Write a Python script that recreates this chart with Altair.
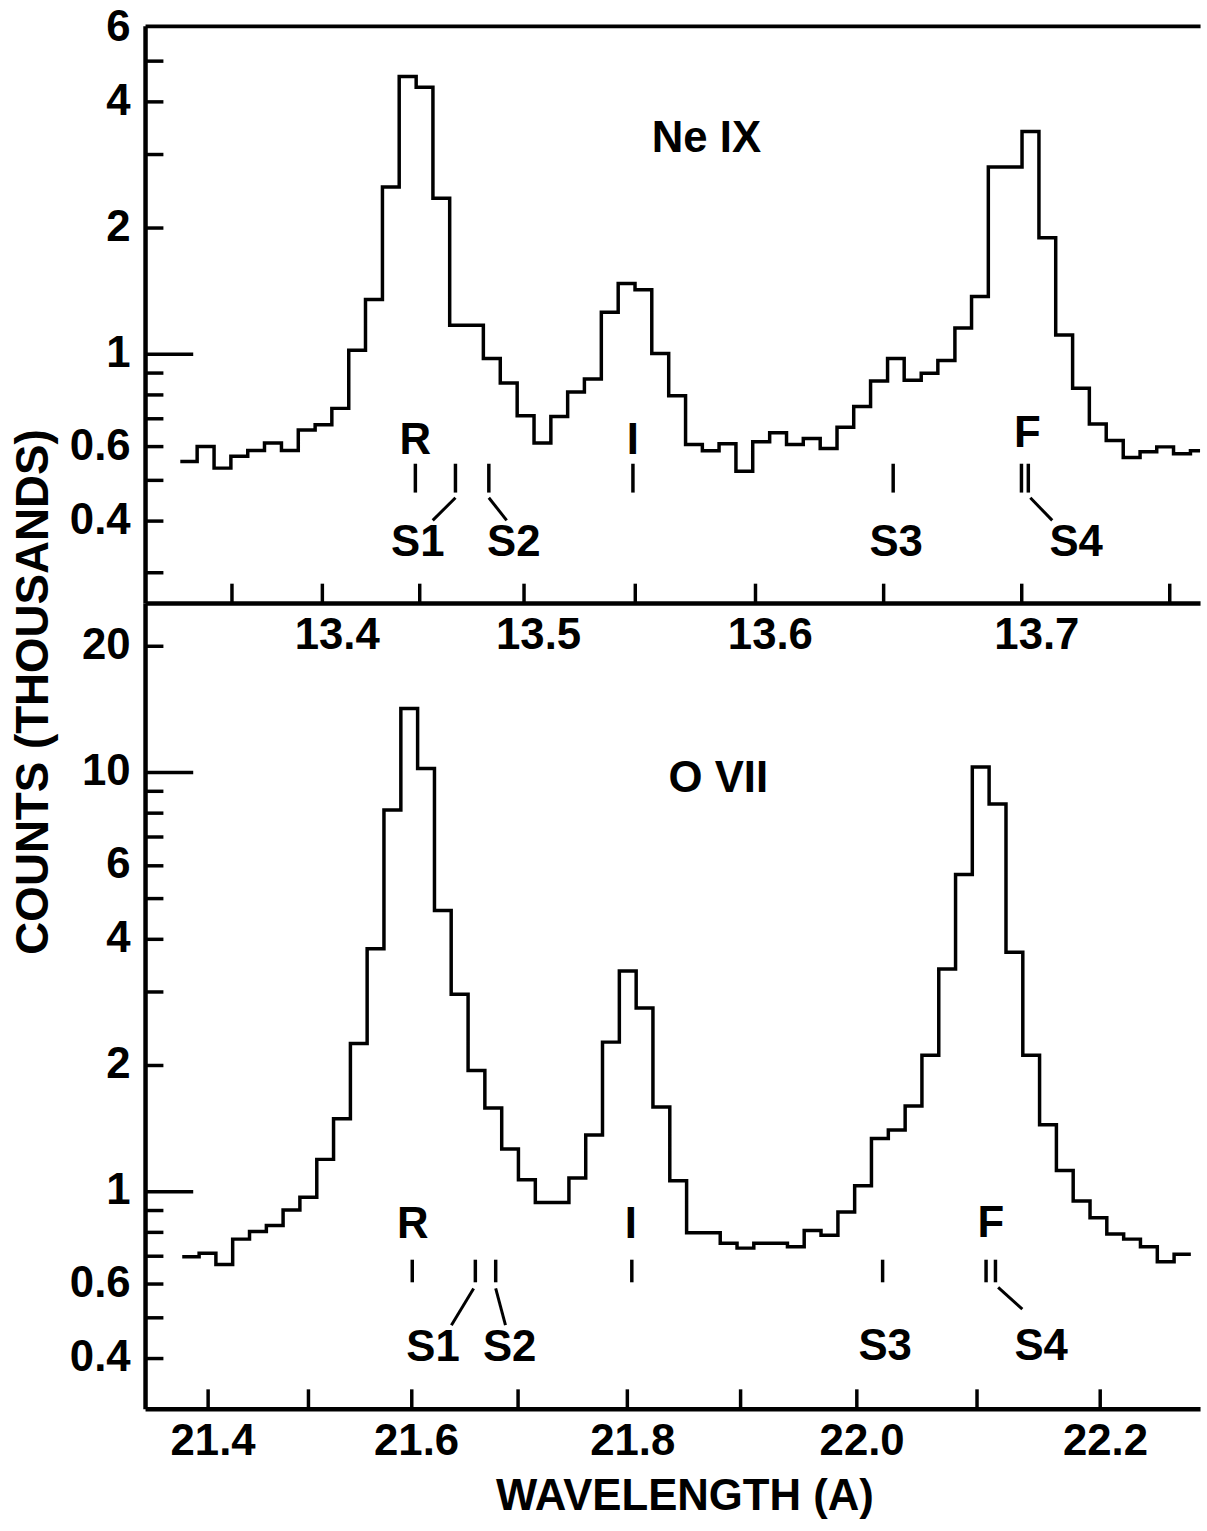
import altair as alt
import pandas as pd

FONT = "Liberation Sans"
WEIGHT = "bold"

# ---------------- Ne IX spectrum (top panel) ----------------
# bin edges in Angstrom (last value = right end of plotted range), counts in thousands
ne_edges = [13.3201, 13.3301, 13.3400, 13.3497, 13.3593, 13.3687, 13.3781, 13.3873, 13.3964, 13.4053,
            13.4142, 13.4229, 13.4316, 13.4401, 13.4486, 13.4569, 13.4651, 13.4733, 13.4813, 13.4893,
            13.4972, 13.5050, 13.5127, 13.5203, 13.5278, 13.5353, 13.5427, 13.5500, 13.5572, 13.5644,
            13.5715, 13.5785, 13.5854, 13.5923, 13.5991, 13.6059, 13.6126, 13.6192, 13.6258, 13.6323,
            13.6387, 13.6451, 13.6515, 13.6577, 13.6640, 13.6701, 13.6763, 13.6823, 13.6883, 13.6943,
            13.7002, 13.7061, 13.7119, 13.7177, 13.7234, 13.7291, 13.7348, 13.7404, 13.7459, 13.7514,
            13.7569, 13.7600]
ne_counts = [0.553, 0.600, 0.533, 0.569, 0.587, 0.612, 0.587, 0.657, 0.676, 0.740,
             1.018, 1.345, 2.497, 4.580, 4.321, 2.346, 1.169, 1.169, 0.973, 0.851,
             0.711, 0.612, 0.708, 0.810, 0.870, 1.255, 1.469, 1.419, 1.000, 0.793,
             0.607, 0.586, 0.609, 0.524, 0.616, 0.647, 0.607, 0.627, 0.594, 0.667,
             0.748, 0.860, 0.973, 0.864, 0.898, 0.963, 1.151, 1.368, 2.788, 2.788,
             3.386, 1.890, 1.107, 0.827, 0.679, 0.620, 0.565, 0.583, 0.599, 0.577,
             0.586]

# ---------------- O VII spectrum (bottom panel) ----------------
o_edges = [21.3742, 21.3914, 21.4084, 21.4253, 21.4422, 21.4590, 21.4756, 21.4922, 21.5088, 21.5252,
           21.5416, 21.5578, 21.5740, 21.5902, 21.6062, 21.6222, 21.6380, 21.6539, 21.6696, 21.6853,
           21.7008, 21.7164, 21.7318, 21.7472, 21.7625, 21.7777, 21.7929, 21.8080, 21.8230, 21.8380,
           21.8529, 21.8677, 21.8825, 21.8972, 21.9118, 21.9264, 21.9409, 21.9553, 21.9697, 21.9841,
           21.9983, 22.0125, 22.0267, 22.0408, 22.0548, 22.0688, 22.0827, 22.0965, 22.1103, 22.1241,
           22.1378, 22.1514, 22.1650, 22.1785, 22.1920, 22.2054, 22.2188, 22.2321, 22.2454, 22.2586,
           22.2717]
o_counts = [0.696, 0.710, 0.667, 0.767, 0.800, 0.827, 0.900, 0.965, 1.189, 1.487,
            2.247, 3.786, 8.110, 14.17, 10.19, 4.668, 2.945, 1.939, 1.576, 1.258,
            1.063, 0.938, 0.938, 1.073, 1.359, 2.265, 3.348, 2.731, 1.585, 1.057,
            0.794, 0.794, 0.750, 0.730, 0.750, 0.750, 0.736, 0.804, 0.784, 0.890,
            1.028, 1.334, 1.398, 1.594, 2.106, 3.386, 5.690, 10.28, 8.385, 3.712,
            2.106, 1.438, 1.118, 0.946, 0.863, 0.789, 0.767, 0.736, 0.677, 0.706]

# ---------------- line identifications ----------------
ne_text = ["R", "I", "F", "S1", "S2", "S3", "S4", "Ne IX"]
ne_text_wl = [13.4482, 13.5491, 13.7021, 13.4494, 13.4956, 13.6547, 13.7189, 13.5802]
ne_text_level = [0.619, 0.619, 0.643, 0.353, 0.353, 0.353, 0.353, 3.25]
ne_marker_wl = [13.4482, 13.4679, 13.4839, 13.5491, 13.6536, 13.7000, 13.7024]
ne_marker_top = [0.546] * 7
ne_marker_bottom = [0.466] * 7
ne_leader_from = [13.4679, 13.4839, 13.7031]
ne_leader_to = [13.4568, 13.4923, 13.7107]
ne_leader_top = [0.453, 0.453, 0.453]
ne_leader_bottom = [0.400, 0.400, 0.400]

o_text = ["R", "I", "F", "S1", "S2", "S3", "S4", "O VII"]
o_text_wl = [21.6016, 21.8032, 22.1118, 21.6209, 21.6927, 22.0240, 22.1527, 21.8808]
o_text_level = [0.830, 0.830, 0.834, 0.421, 0.421, 0.424, 0.424, 9.62]
o_marker_wl = [21.6011, 21.6607, 21.6797, 21.8041, 22.0219, 22.1078, 22.1155]
o_marker_top = [0.685] * 7
o_marker_bottom = [0.605] * 7
o_leader_from = [21.6591, 21.6797, 22.1177]
o_leader_to = [21.6382, 21.6888, 22.1374]
o_leader_top = [0.585, 0.585, 0.588]
o_leader_bottom = [0.478, 0.478, 0.522]

# ---------------- axis values ----------------
ne_x_labels = [13.4, 13.5, 13.6, 13.7]
ne_x_ticks = [13.35, 13.4, 13.45, 13.5, 13.55, 13.6, 13.65, 13.7, 13.75]
o_x_labels = [21.4, 21.6, 21.8, 22.0, 22.2]
o_x_ticks = [21.4, 21.5, 21.6, 21.7, 21.8, 21.9, 22.0, 22.1, 22.2]
ne_y_labels = [0.4, 0.6, 1, 2, 4, 6]
ne_y_ticks = [0.3, 0.4, 0.5, 0.6, 0.7, 0.8, 0.9, 1, 2, 3, 4, 5]
o_y_labels = [0.4, 0.6, 1, 2, 4, 6, 10, 20]
o_y_ticks = [0.4, 0.5, 0.6, 0.7, 0.8, 0.9, 1, 2, 3, 4, 5, 6, 7, 8, 9, 10, 20]

W = 1062
H1 = 581
H2 = 811


def step_frame(edges, counts):
    n = len(counts)
    return pd.DataFrame({"wavelength": edges,
                         "counts": [counts[min(i, n - 1)] for i in range(len(edges))]})


def panel(edges, counts, text, text_wl, text_level, m_wl, m_top, m_bot,
          l_from, l_to, l_top, l_bot, xscale, yscale, H, x_axis, y_axis,
          x_ticks, y_ticks, long_test, top_border):
    hist = alt.Chart(step_frame(edges, counts)).mark_line(
        interpolate="step-after", color="black", strokeWidth=3.5
    ).encode(
        x=alt.X("wavelength:Q", scale=xscale, axis=x_axis),
        y=alt.Y("counts:Q", scale=yscale, axis=y_axis),
    )
    mdf = pd.DataFrame({"wavelength": m_wl, "top": m_top, "bottom": m_bot})
    markers = alt.Chart(mdf).mark_rule(color="black", strokeWidth=3.5).encode(
        x=alt.X("wavelength:Q", scale=xscale,
                axis=alt.Axis(orient="top", offset=-H, values=x_ticks, ticks=True,
                              tickSize=20, tickWidth=3.5, tickColor="black",
                              labels=False, domain=False, grid=False, title=None)),
        y=alt.Y("top:Q", scale=yscale,
                axis=alt.Axis(orient="right", offset=-W, values=y_ticks, ticks=True,
                              tickSize={"condition": {"test": long_test, "value": 48}, "value": 18},
                              tickWidth=3.5, tickColor="black",
                              labels=False, domain=False, grid=False, title=None)),
        y2="bottom:Q",
    )
    tdf = pd.DataFrame({"label": text, "wavelength": text_wl, "level": text_level})
    if top_border:
        tx_axis = alt.Axis(orient="top", domain=True, domainWidth=4, domainColor="black",
                           ticks=False, labels=False, grid=False, title=None)
    else:
        tx_axis = None
    texts = alt.Chart(tdf).mark_text(
        font=FONT, fontSize=44, fontWeight=WEIGHT, color="black", align="center", baseline="middle"
    ).encode(
        x=alt.X("wavelength:Q", scale=xscale, axis=tx_axis),
        y=alt.Y("level:Q", scale=yscale, axis=None),
        text="label:N",
    )
    ldf = pd.DataFrame({"x1": l_from, "x2": l_to, "y1": l_top, "y2": l_bot})
    leaders = alt.Chart(ldf).mark_rule(color="black", strokeWidth=3).encode(
        x=alt.X("x1:Q", scale=xscale, axis=None),
        x2="x2:Q",
        y=alt.Y("y1:Q", scale=yscale, axis=None),
        y2="y2:Q",
    )
    return alt.layer(hist, markers, texts, leaders).resolve_axis(
        x="independent", y="independent"
    ).properties(width=W, height=H)


ne_xscale = alt.Scale(type="pow", exponent=20, domain=[13.2987, 13.7600], nice=False, zero=False)
ne_yscale = alt.Scale(type="log", domain=[0.254, 6.05], nice=False)
o_xscale = alt.Scale(type="pow", exponent=7.5, domain=[21.336, 22.2789], nice=False, zero=False)
o_yscale = alt.Scale(type="log", domain=[0.302, 25.3], nice=False)

ne_x_axis = alt.Axis(orient="bottom", values=ne_x_labels, format=".1f", ticks=False, tickSize=0,
                     domain=True, domainWidth=4.5, domainColor="black", labelOffset=15,
                     labelPadding=11, labelFlush=False, labelOverlap=False, grid=False, title=None)
ne_y_axis = alt.Axis(orient="left", values=ne_y_labels, format="~g", ticks=False, tickSize=0,
                     domain=True, domainWidth=4.5, domainColor="black", labelPadding=15,
                     labelBaseline="middle", labelFlush=False, labelOverlap=False,
                     grid=False, title=None)
o_x_axis = alt.Axis(orient="bottom", values=o_x_labels, format=".1f", ticks=False, tickSize=0,
                    domain=True, domainWidth=4.5, domainColor="black", labelOffset=5,
                    labelPadding=11, labelFlush=False, labelOverlap=False, grid=False,
                    title="WAVELENGTH (A)", titleX=543, titleY=88, titleAlign="center",
                    titleBaseline="middle", titleFontSize=44)
o_y_axis = alt.Axis(orient="left", values=o_y_labels, format="~g", ticks=False, tickSize=0,
                    domain=True, domainWidth=4.5, domainColor="black", labelPadding=15,
                    labelBaseline="middle", labelFlush=False, labelOverlap=False, grid=False,
                    title="COUNTS (THOUSANDS)", titleAngle=270, titleX=-112, titleY=89,
                    titleAlign="center", titleBaseline="middle", titleFontSize=46)

top = panel(ne_edges, ne_counts, ne_text, ne_text_wl, ne_text_level, ne_marker_wl,
            ne_marker_top, ne_marker_bottom, ne_leader_from, ne_leader_to, ne_leader_top,
            ne_leader_bottom, ne_xscale, ne_yscale, H1, ne_x_axis, ne_y_axis,
            ne_x_ticks, ne_y_ticks, "datum.value == 1", True)
bottom = panel(o_edges, o_counts, o_text, o_text_wl, o_text_level, o_marker_wl,
               o_marker_top, o_marker_bottom, o_leader_from, o_leader_to, o_leader_top,
               o_leader_bottom, o_xscale, o_yscale, H2, o_x_axis, o_y_axis,
               o_x_ticks, o_y_ticks, "datum.value == 1 || datum.value == 10", False)

chart = alt.vconcat(top, bottom, spacing=0, bounds="flush").properties(
    padding={"left": 10, "top": 0, "right": 0, "bottom": 0},
    background="white",
).configure_view(stroke=None).configure_axis(
    labelFont=FONT, labelFontSize=44, labelColor="black", labelFontWeight=WEIGHT,
    titleFont=FONT, titleColor="black", titleFontWeight=WEIGHT,
    domainColor="black", tickColor="black",
)

chart.save("out.html", embed_options={"renderer": "svg", "actions": False})
